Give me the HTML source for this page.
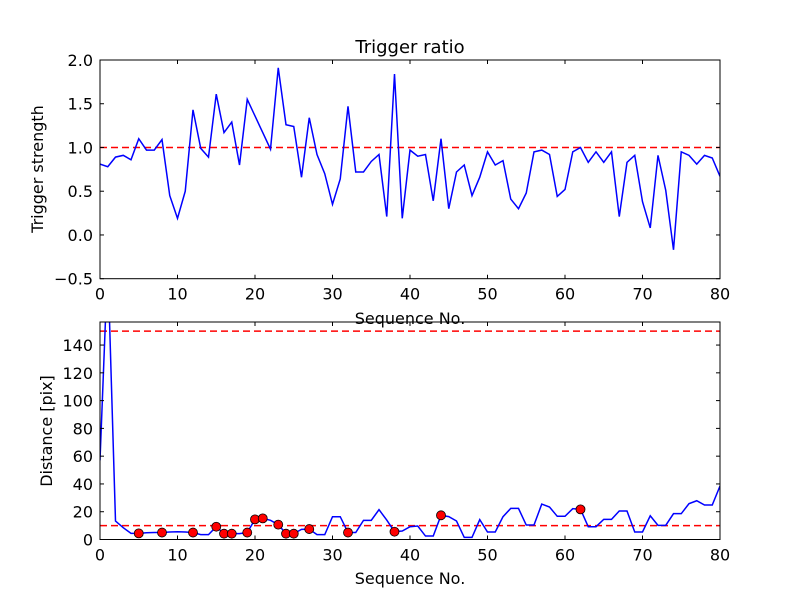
<!DOCTYPE html>
<html><head><meta charset="utf-8">
<style>
html,body{margin:0;padding:0;background:#fff;}
svg text{font-family:"DejaVu Sans","Liberation Sans",sans-serif;fill:#000;}
</style></head>
<body>
<svg id="fig" width="800" height="600" xmlns="http://www.w3.org/2000/svg">
<rect width="800" height="600" fill="#fff"/>
</svg>
<script>
const strength = [0.81,0.78,0.89,0.91,0.86,1.10,0.97,0.97,1.09,0.45,0.19,0.50,1.43,0.99,0.89,1.61,1.17,1.29,0.80,1.55,1.36,1.17,0.98,1.91,1.26,1.24,0.66,1.34,0.92,0.70,0.35,0.64,1.47,0.72,0.72,0.84,0.92,0.21,1.84,0.19,0.97,0.90,0.92,0.39,1.10,0.30,0.72,0.80,0.45,0.66,0.95,0.80,0.85,0.41,0.30,0.48,0.95,0.97,0.92,0.44,0.52,0.95,1.00,0.83,0.95,0.83,0.95,0.21,0.83,0.91,0.38,0.08,0.91,0.51,-0.17,0.95,0.91,0.81,0.91,0.88,0.67];
const distance = [57,200,13.3,8.5,4.4,4.4,4.9,5,5,5.4,5.6,5.4,5,3.5,3.5,9.2,4.2,4.2,4.2,5,14.5,15.2,13.8,10.7,4.2,4.2,7.3,7.5,3.5,3.5,16.4,16.4,5,5,13.8,13.8,21.5,14,5.6,6.1,9.2,9.7,2.5,2.5,17.4,16.5,13.3,1.5,1.5,14.3,5.4,5.4,16.4,22.4,22.4,10.4,10.4,25.5,23.4,16.7,16.7,22.2,21.7,9.2,9.2,14.5,14.5,20.5,20.5,5.4,5.4,17.1,10.2,10.2,18.6,18.6,25.8,27.9,24.8,24.8,38.5];
const markerIdx = [5,8,12,15,16,17,19,20,21,23,24,25,27,32,38,44,62];
const xTicks = [0,10,20,30,40,50,60,70,80];
const topYTicks = [2.0,1.5,1.0,0.5,0.0,-0.5];
const topYLabels = ["2.0","1.5","1.0","0.5","0.0","\u22120.5"];
const botYTicks = [0,20,40,60,80,100,120,140];
const topThreshold = [1.0];
const botThresholds = [10,150];

const NS="http://www.w3.org/2000/svg";
const svg=document.getElementById('fig');
function mk(tag,attrs,parent){const e=document.createElementNS(NS,tag);for(const k in attrs)e.setAttribute(k,attrs[k]);(parent||svg).appendChild(e);return e;}

const L=100,R=720;
const xS=v=>L+(v-0)/(80-0)*(R-L);
const topAx={t:60,b:278.7,min:-0.5,max:2.0};
const botAx={t:322,b:539.5,min:0,max:156.6};
const yT=v=>topAx.b-(v-topAx.min)/(topAx.max-topAx.min)*(topAx.b-topAx.t);
const yB=v=>botAx.b-(v-botAx.min)/(botAx.max-botAx.min)*(botAx.b-botAx.t);

function axes(ax,yF,ticks,labels,name){
  const g=mk('g',{});
  
  
  const clip=mk('clipPath',{id:name+'-clip'},g);
  mk('rect',{x:L,y:ax.t,width:R-L,height:ax.b-ax.t},clip);
  const data=mk('g',{'clip-path':'url(#'+name+'-clip)'},g);
  xTicks.forEach(v=>{
    const x=xS(v);
    const t1=mk('line',{x1:x,x2:x,y1:ax.b,y2:ax.b-4,stroke:'#000','stroke-width':1},g);
    
    
    mk('line',{x1:x,x2:x,y1:ax.t,y2:ax.t+4,stroke:'#000','stroke-width':1},g);
    const tx=mk('text',{x:x,y:ax.b+21,'text-anchor':'middle','font-size':16},g);
    tx.textContent=v;
    
    
  });
  ticks.forEach((v,i)=>{
    const y=yF(v);
    mk('line',{x1:L,x2:L+4,y1:y,y2:y,stroke:'#000','stroke-width':1},g);
    mk('line',{x1:R,x2:R-4,y1:y,y2:y,stroke:'#000','stroke-width':1},g);
    const tx=mk('text',{x:L-7,y:y+6,'text-anchor':'end','font-size':16},g);
    tx.textContent=labels[i];
    
    
  });
  return data;
}

const d1=axes(topAx,yT,topYTicks,topYLabels,'strength');
topThreshold.forEach(v=>{
  const l=mk('line',{x1:L,x2:R,y1:yT(v),y2:yT(v),stroke:'#ff0000','stroke-width':1.5,'stroke-dasharray':'7,4'},d1);
  
  
});
const p1=mk('polyline',{points:strength.map((v,i)=>xS(i)+','+yT(v)).join(' '),fill:'none',stroke:'#0000ff','stroke-width':1.5},d1);


mk('rect',{x:L,y:topAx.t,width:R-L,height:topAx.b-topAx.t,fill:'none',stroke:'#000','stroke-width':1});

const d2=axes(botAx,yB,botYTicks,botYTicks.map(String),'distance');
botThresholds.forEach(v=>{
  const l=mk('line',{x1:L,x2:R,y1:yB(v),y2:yB(v),stroke:'#ff0000','stroke-width':1.5,'stroke-dasharray':'7,4'},d2);
  
  
});
const p2=mk('polyline',{points:distance.map((v,i)=>xS(i)+','+yB(v)).join(' '),fill:'none',stroke:'#0000ff','stroke-width':1.5},d2);


markerIdx.forEach(i=>{
  const c=mk('circle',{cx:xS(i),cy:yB(distance[i]),r:4.5,fill:'#ff0000',stroke:'#000','stroke-width':0.8},d2);
  
  
});
mk('rect',{x:L,y:botAx.t,width:R-L,height:botAx.b-botAx.t,fill:'none',stroke:'#000','stroke-width':1});

function label(txt,attrs,name){
  const t=mk('text',attrs);
  t.textContent=txt;
  
  
}
label('Trigger ratio',{x:410,y:53,'text-anchor':'middle','font-size':18},'chart-title');
label('Sequence No.',{x:410,y:324,'text-anchor':'middle','font-size':16},'top-x-axis-title');
label('Sequence No.',{x:410,y:584,'text-anchor':'middle','font-size':16},'bottom-x-axis-title');
label('Trigger strength',{x:43,y:169,'text-anchor':'middle','font-size':16,transform:'rotate(-90 43 169)'},'top-y-axis-title');
label('Distance [pix]',{x:52,y:431,'text-anchor':'middle','font-size':16,transform:'rotate(-90 52 431)'},'bottom-y-axis-title');
</script>
</body></html>
